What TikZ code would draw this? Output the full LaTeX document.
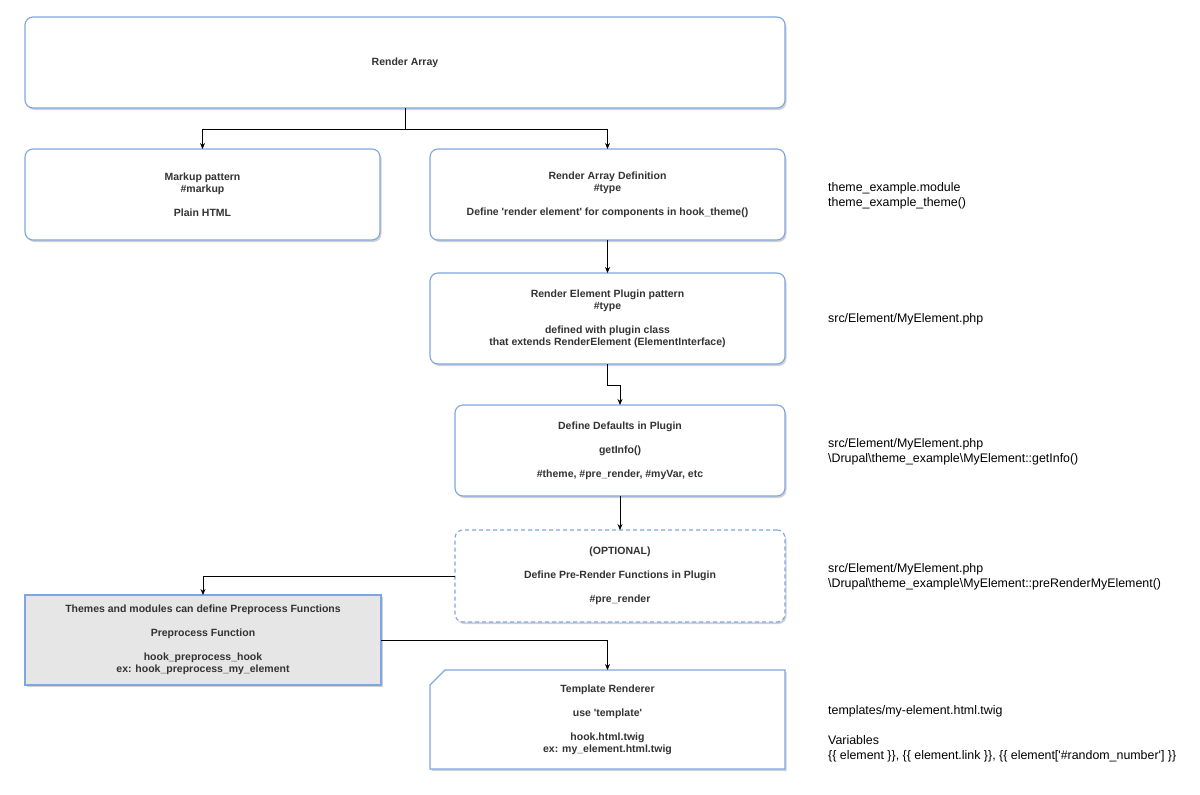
\documentclass[tikz,border=0pt]{standalone}
\usepackage{fontspec}
\setmainfont{Liberation Sans}
\usetikzlibrary{arrows.meta,shadows,calc,backgrounds}
\definecolor{bord}{HTML}{7EA6E0}
\definecolor{txt}{HTML}{333333}
\definecolor{grayfill}{HTML}{E6E6E6}
\begin{document}
\begin{tikzpicture}[x=1pt,y=-1pt,
  shad/.style={drop shadow={shadow xshift=1.5pt, shadow yshift=-2pt, opacity=0.18, fill=black}},
  box/.style={draw=bord, line width=1.1pt, rounded corners=8pt, fill=white, inner sep=0pt, outer sep=0pt,
    align=center, text=txt, font=\fontsize{10.5}{12}\selectfont\bfseries, shad},
  sharpbox/.style={box, rounded corners=0pt, fill=grayfill},
  dashbox/.style={box, dash pattern=on 4pt off 3pt},
  plain/.style={inner sep=0pt, outer sep=0pt, align=center, text=txt, font=\fontsize{10.5}{12}\selectfont\bfseries},
  arr/.style={-{Stealth[length=6pt,width=5pt]}, line width=0.8pt, black},
  rt/.style={anchor=west, align=left, inner sep=0pt, font=\fontsize{12.4}{15}\selectfont, text=black}
]
\useasboundingbox (0,0) rectangle (1200,795);

\node[box, minimum width=760pt, minimum height=91pt] (top) at (405,62.5) {Render Array};
\node[box, minimum width=355pt, minimum height=91pt] (markup) at (202.5,194.5)
  {Markup pattern\\\#markup\\[12pt]Plain HTML};
\node[box, minimum width=355pt, minimum height=91pt] (rad) at (607.5,194.5)
  {Render Array Definition\\\#type\\[12pt]Define \textquotesingle render element\textquotesingle{} for components in hook\_theme()};
\node[box, minimum width=355pt, minimum height=91pt] (plugin) at (607.5,318.5)
  {Render Element Plugin pattern\\\#type\\[12pt]defined with plugin class\\that extends RenderElement (ElementInterface)};
\node[box, minimum width=330pt, minimum height=91pt] (defaults) at (620,450.5)
  {Define Defaults in Plugin\\[12pt]getInfo()\\[12pt]\#theme, \#pre\_render, \#myVar, etc};
\node[dashbox, minimum width=330pt, minimum height=92pt] (opt) at (620,576)
  {(OPTIONAL)\\[12pt]Define Pre-Render Functions in Plugin\\[12pt]\#pre\_render};
\node[sharpbox, minimum width=356pt, minimum height=90pt] (pre) at (203,640)
  {Themes and modules can define Preprocess Functions\\[12pt]Preprocess Function\\[12pt]hook\_preprocess\_hook\\ex: hook\_preprocess\_my\_element};
\node[plain, minimum width=355pt, minimum height=99pt] (tpl) at (607.5,719.5)
  {Template Renderer\\[12pt]use \textquotesingle template\textquotesingle\\[12pt]hook.html.twig\\ex: my\_element.html.twig};
\begin{scope}[on background layer]
  \draw[draw=bord, line width=1.1pt, fill=white, shad]
    ($(tpl.north west)+(15,0)$) -- (tpl.north east) -- (tpl.south east) -- (tpl.south west)
    -- ($(tpl.north west)+(0,15)$) -- cycle;
\end{scope}

% connectors
\draw[arr] (top.south) -- ++(0,21) -| (markup.north);
\draw[arr] (top.south) -- ++(0,21) -| (rad.north);
\draw[arr] (rad.south) -- (plugin.north);
\draw[arr] (plugin.south) -- ++(0,21) -| (defaults.north);
\draw[arr] (defaults.south) -- (opt.north);
\draw[arr] (opt.west) -| (pre.north);
\draw[arr] (pre.east) -| (tpl.north);

% right-hand notes
\node[rt] (n1) at (828,195.5) {theme\_example.module\\theme\_example\_theme()};
\node[rt] (n2) at (828,319.5) {src/Element/MyElement.php};
\node[rt] (n3) at (828,451.5) {src/Element/MyElement.php\\\textbackslash Drupal\textbackslash theme\_example\textbackslash MyElement::getInfo()};
\node[rt] (n4) at (828,576.5) {src/Element/MyElement.php\\\textbackslash Drupal\textbackslash theme\_example\textbackslash MyElement::preRenderMyElement()};
\node[rt] (n5) at (828,733.7) {templates/my-element.html.twig\\[15pt]Variables\\\{\{ element \}\}, \{\{ element.link \}\}, \{\{ element[\textquotesingle\#random\_number\textquotesingle] \}\}};
\end{tikzpicture}
\end{document}
